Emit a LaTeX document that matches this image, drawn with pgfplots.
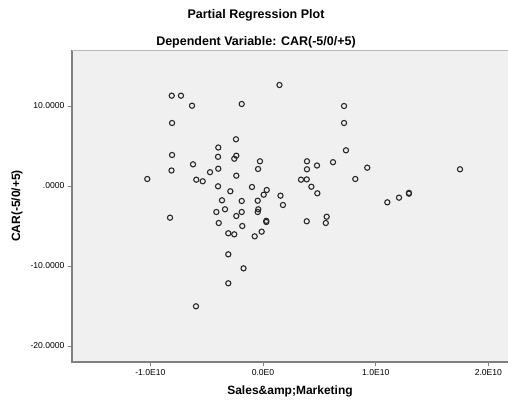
\documentclass[border=0pt]{standalone}
\usepackage{pgfplots}
\pgfplotsset{compat=1.18}
\usepackage{fontspec}
\setmainfont{Liberation Sans}
\definecolor{bgc}{HTML}{F0F0F0}
\definecolor{axc}{HTML}{808080}
\definecolor{mk}{HTML}{2A2A2A}
\begin{document}
\begin{tikzpicture}[x=1pt,y=1pt]
\useasboundingbox (0,0) rectangle (508,404);
\node[font=\bfseries\fontsize{12.5}{14}\selectfont] at (256,389) {Partial Regression Plot};
\node[font=\bfseries\fontsize{12.5}{14}\selectfont] at (256,362) {Dependent Variable: CAR(-5/0/+5)};
\begin{axis}[
  at={(72pt,42pt)}, anchor=south west,
  scale only axis, width=436pt, height=312pt,
  xmin=-1.695, xmax=2.174, ymin=-22, ymax=17,
  axis background/.style={fill=bgc},
  axis line style={draw=none},
  xtick={-1,0,1,2},
  xticklabels={-1.0E10,0.0E0,1.0E10,2.0E10},
  ytick={-20,-10,0,10},
  yticklabels={-20.0000,-10.0000,.0000,10.0000},
  xtick pos=lower, ytick pos=left,
  tick align=outside, major tick length=4pt,
  tick style={axc, line width=0.8pt},
  ticklabel style={font=\fontsize{8.6}{10}\selectfont},
  xlabel={Sales\&amp;Marketing},
  ylabel={CAR(-5/0/+5)},
  every axis x label/.style={at={(axis description cs:0.5,-0.095)}, anchor=center, font=\bfseries\fontsize{12}{14}\selectfont},
  every axis y label/.style={at={(axis description cs:-0.126,0.5)}, rotate=90, anchor=center, font=\bfseries\fontsize{12}{14}\selectfont},
  clip=false,
]
\addplot[only marks, mark=o, mark size=2.6pt, mark options={draw=mk, line width=1.1pt}] table {
x y
-1.027 0.875
-0.825 -3.96
-0.810 11.29
-0.728 11.29
-0.630 10.04
-0.807 7.875
-0.807 3.875
-0.812 1.94
-0.621 2.71
-0.592 0.79
-0.535 0.59
-0.595 -15.04
-0.470 1.725
-0.397 4.81
-0.399 3.65
-0.397 2.16
-0.399 -0.04
-0.414 -3.25
-0.393 -4.625
-0.364 -1.79
-0.337 -2.91
-0.308 -5.91
-0.308 -8.54
-0.290 -0.66
-0.255 -6.04
-0.240 5.84
-0.237 3.79
-0.255 3.41
-0.237 1.29
-0.237 -3.75
-0.189 -1.875
-0.189 -3.25
-0.184 -5.0
-0.173 -10.29
-0.189 10.25
-0.308 -12.16
-0.098 -0.125
-0.074 -6.29
-0.047 -1.84
-0.042 -2.91
-0.047 -3.25
-0.044 2.125
-0.027 3.09
-0.012 -5.71
0.006 -1.09
0.033 -0.5
0.029 -4.35
0.029 -4.50
0.146 12.625
0.155 -1.21
0.177 -2.375
0.337 0.79
0.388 0.825
0.390 3.09
0.390 2.09
0.388 -4.41
0.429 -0.09
0.479 2.56
0.482 -0.91
0.565 -3.84
0.557 -4.625
0.621 2.975
0.719 10.0
0.719 7.875
0.736 4.46
0.819 0.875
0.925 2.29
1.103 -2.04
1.207 -1.46
1.295 -0.86
1.295 -0.96
1.748 2.09
};
\draw[axc, line width=1.3pt] (rel axis cs:0,1) -- (rel axis cs:0,0) -- (rel axis cs:1,0);
\draw[gray!55, line width=0.6pt] (rel axis cs:0,1) -- (rel axis cs:1,1);
\end{axis}
\end{tikzpicture}
\end{document}
